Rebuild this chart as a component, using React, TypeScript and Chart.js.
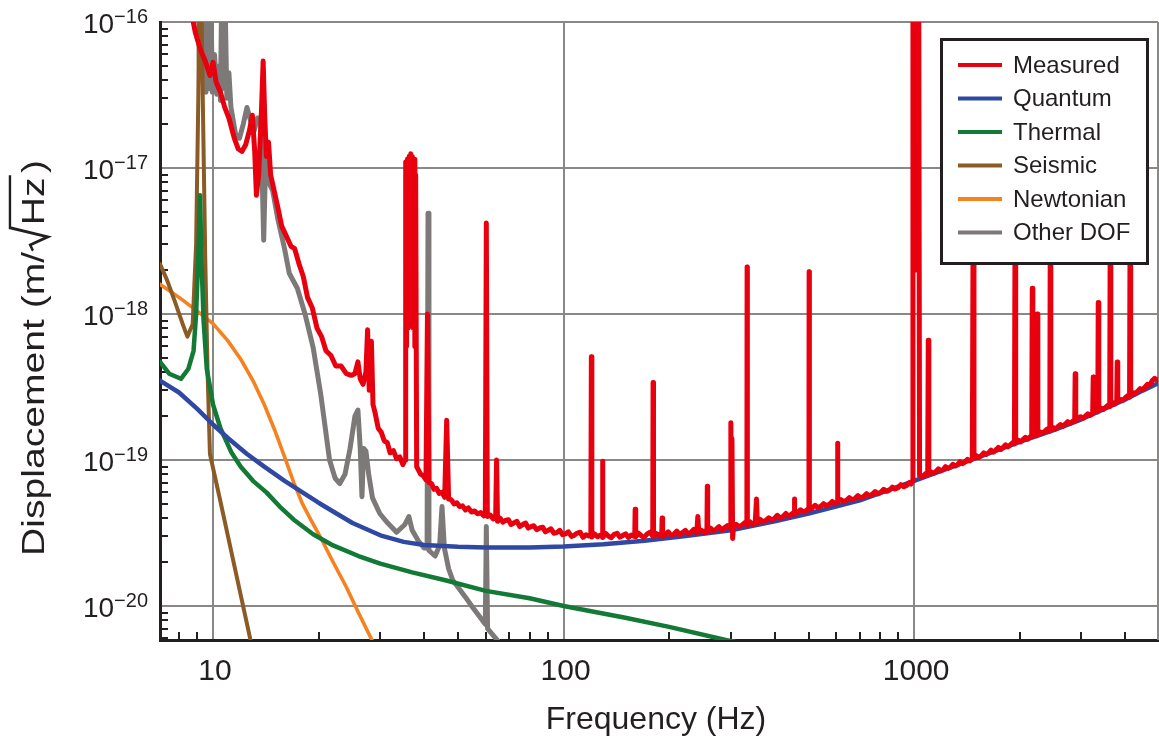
import { useEffect, useRef } from "react";
import { Chart, registerables } from "chart.js";

Chart.register(...registerables);

const FONT = "'Liberation Sans', Arial, Helvetica, sans-serif";
const INK = "#231f20";
const GRID = "#8a8787";

// Axis setup
const xRange = [7.06, 4960];
const yRange = [5.85e-21, 1e-16];
const xMajorTicks = [10, 100, 1000];
const xTickLabels = ["10", "100", "1000"];
const yMajorTicks = [1e-20, 1e-19, 1e-18, 1e-17, 1e-16];
const yTickExponents = ["−20", "−19", "−18", "−17", "−16"];

// Series: [frequency (Hz), displacement (m/√Hz)]
const measured: [number, number][] = [
  [8.6, 1.3e-16], [8.9, 8.5e-17], [9.2, 6.5e-17], [9.5, 5.4e-17], [9.8, 4.3e-17], [10.0, 5.3e-17],
  [10.2, 3.9e-17], [10.5, 3.3e-17], [10.8, 2.6e-17], [11.1, 2.2e-17], [11.5, 1.6e-17], [11.8, 1.35e-17],
  [12.1, 1.3e-17], [12.4, 1.45e-17], [12.7, 1.8e-17], [12.95, 2.3e-17], [13.15, 1.3e-17], [13.3, 6.5e-18],
  [13.5, 9e-18], [13.75, 2.5e-17], [13.9, 5.4e-17], [14.05, 2.2e-17], [14.2, 1.2e-17], [14.4, 1.5e-17],
  [14.6, 9e-18], [14.9, 7.2e-18], [15.3, 5.4e-18], [15.7, 4.0e-18], [16.2, 3.4e-18], [16.7, 2.9e-18],
  [17.1, 2.8e-18], [17.6, 2.2e-18], [18.1, 1.8e-18], [18.6, 1.3e-18], [19.2, 1.1e-18], [19.8, 8.0e-19],
  [20.4, 7.0e-19], [21.0, 5.6e-19], [21.7, 5.2e-19], [22.4, 4.4e-19], [23.2, 4.4e-19], [24.0, 3.9e-19],
  [24.8, 3.8e-19], [25.4, 3.9e-19], [25.9, 4.7e-19], [26.3, 3.6e-19], [26.8, 3.3e-19], [27.3, 4.0e-19],
  [27.6, 7.8e-19], [27.9, 3.0e-19], [28.3, 6.5e-19], [28.6, 2.4e-19], [29.0, 2.1e-19], [29.6, 1.65e-19],
  [30.2, 1.55e-19], [30.8, 1.35e-19], [31.4, 1.32e-19], [32.0, 1.12e-19], [32.7, 1.16e-19], [33.4, 1.02e-19],
  [34.1, 1.05e-19], [34.8, 9.3e-20], [35.3, 1.0e-19], [35.45, 1.1e-17], [35.65, 6e-19], [35.85, 1.15e-17],
  [36.05, 8e-19], [36.25, 1.2e-17], [36.45, 9e-19], [36.65, 1.25e-17], [36.85, 1.0e-18], [37.05, 1.2e-17],
  [37.25, 8e-19], [37.45, 1.15e-17], [37.65, 6e-19], [37.85, 9e-18], [38.1, 9e-20], [38.5, 8.6e-20],
  [39.1, 8.0e-20], [39.8, 7.8e-20], [40.5, 7.3e-20], [40.9, 1.0e-18], [41.3, 7.0e-20], [42.0, 6.9e-20],
  [42.7, 6.3e-20], [43.4, 6.4e-20], [44.2, 5.9e-20], [45.0, 6.0e-20], [45.8, 5.55e-20], [46.4, 1.87e-19],
  [47.0, 5.4e-20], [47.8, 5.35e-20], [48.7, 5.0e-20], [49.6, 5.1e-20], [50.5, 4.8e-20], [51.5, 4.85e-20],
  [52.5, 4.55e-20], [53.5, 4.7e-20], [54.6, 4.4e-20], [55.7, 4.48e-20], [56.8, 4.28e-20], [58.0, 4.36e-20],
  [59.2, 4.15e-20], [59.8, 4.25e-20], [60.2, 4.2e-18], [60.6, 4.1e-20], [61.8, 4.2e-20], [63.0, 3.95e-20],
  [64.0, 4.05e-20], [64.4, 1.0e-19], [64.8, 3.8e-20], [65.9, 4.0e-20], [67.1, 3.75e-20], [68.2, 3.85e-20],
  [69.6, 3.9e-20], [70.8, 3.62e-20], [72.3, 3.72e-20], [73.6, 3.8e-20], [75.0, 3.5e-20], [76.3, 3.6e-20],
  [77.9, 3.7e-20], [79.3, 3.42e-20], [80.9, 3.5e-20], [82.2, 3.55e-20], [83.9, 3.33e-20], [85.4, 3.42e-20],
  [87.2, 3.46e-20], [88.7, 3.22e-20], [90.4, 3.3e-20], [92.0, 3.38e-20], [93.9, 3.15e-20], [95.6, 3.18e-20],
  [97.5, 3.3e-20], [99.3, 3.08e-20], [101.3, 3.12e-20], [103.2, 3.22e-20], [105.3, 3.0e-20], [107.2, 3.05e-20],
  [109.4, 3.16e-20], [111.5, 3.2e-20], [113.6, 2.95e-20], [115.9, 3.08e-20], [118.0, 3.02e-20], [119.6, 3.1e-20],
  [120.0, 5.1e-19], [120.4, 2.97e-20], [122.5, 3.12e-20], [124.9, 2.98e-20], [127.3, 3.06e-20], [128.7, 3.0e-20],
  [129.1, 9.8e-20], [129.5, 2.95e-20], [131.9, 3.14e-20], [134.4, 3.0e-20], [136.8, 2.94e-20], [139.5, 3.1e-20],
  [142.1, 3.15e-20], [144.8, 2.96e-20], [147.4, 3.04e-20], [150.3, 3.12e-20], [153.0, 2.95e-20], [156.0, 3.06e-20],
  [158.8, 3.0e-20], [159.6, 3.1e-20], [160.0, 4.6e-20], [160.6, 2.98e-20], [163.5, 3.15e-20], [166.8, 3.02e-20],
  [169.9, 2.96e-20], [173.2, 3.12e-20], [176.5, 3.2e-20], [179.6, 3.02e-20], [180.0, 3.4e-19], [180.5, 3.0e-20],
  [183.6, 3.14e-20], [187.1, 3.02e-20], [190.6, 3.2e-20], [191.0, 4.0e-20], [191.6, 3.0e-20], [195.1, 3.08e-20],
  [198.8, 3.22e-20], [202.6, 3.05e-20], [206.3, 3.1e-20], [210.3, 3.26e-20], [214.2, 3.08e-20], [218.3, 3.18e-20],
  [222.4, 3.3e-20], [226.6, 3.12e-20], [231.0, 3.2e-20], [235.3, 3.35e-20], [239.8, 3.16e-20], [241.5, 4.1e-20],
  [243.0, 3.22e-20], [247.5, 3.3e-20], [252.1, 3.18e-20], [256.4, 3.36e-20], [257.0, 6.6e-20], [257.6, 3.2e-20],
  [262.3, 3.42e-20], [267.3, 3.28e-20], [272.4, 3.36e-20], [277.5, 3.5e-20], [282.8, 3.3e-20], [288.1, 3.44e-20],
  [293.6, 3.55e-20], [299.6, 3.4e-20], [300.0, 1.8e-19], [301.2, 6e-20], [302.2, 1.4e-19], [303.5, 2.9e-20],
  [305.0, 3.45e-20], [310.8, 3.62e-20], [316.7, 3.5e-20], [322.7, 3.58e-20], [328.8, 3.72e-20], [333.3, 3.6e-20],
  [333.8, 2.1e-18], [334.3, 3.55e-20], [340.0, 3.78e-20], [346.5, 3.62e-20], [352.1, 3.74e-20], [355.0, 5.4e-20],
  [357.0, 3.7e-20], [363.7, 3.92e-20], [370.6, 3.76e-20], [377.6, 3.86e-20], [384.8, 4.02e-20], [392.1, 3.88e-20],
  [399.5, 3.98e-20], [407.1, 4.18e-20], [414.8, 4.0e-20], [422.7, 4.1e-20], [430.7, 4.3e-20], [438.9, 4.12e-20],
  [447.2, 4.26e-20], [454.4, 4.4e-20], [455.2, 5.4e-20], [456.5, 4.25e-20], [465.1, 4.38e-20], [473.9, 4.56e-20],
  [482.9, 4.4e-20], [492.0, 4.5e-20], [501.0, 4.68e-20], [501.6, 1.95e-18], [502.4, 4.55e-20], [511.9, 4.7e-20],
  [521.6, 4.9e-20], [531.5, 4.72e-20], [541.6, 4.82e-20], [551.9, 5.02e-20], [562.3, 4.86e-20], [573.0, 4.98e-20],
  [583.9, 5.2e-20], [594.9, 5.02e-20], [603.0, 5.14e-20], [604.5, 1.3e-19], [606.0, 5.2e-20], [617.5, 5.36e-20],
  [629.2, 5.18e-20], [641.1, 5.3e-20], [653.3, 5.52e-20], [665.7, 5.34e-20], [678.3, 5.46e-20], [691.2, 5.7e-20],
  [704.3, 5.5e-20], [717.6, 5.62e-20], [731.3, 5.88e-20], [745.1, 5.68e-20], [759.3, 5.82e-20], [773.7, 6.08e-20],
  [788.4, 5.88e-20], [803.3, 6.02e-20], [818.6, 6.3e-20], [834.1, 6.1e-20], [849.9, 6.22e-20], [866.0, 6.52e-20],
  [882.5, 6.32e-20], [899.2, 6.46e-20], [916.3, 6.78e-20], [933.7, 6.56e-20], [951.4, 6.7e-20], [969.4, 7.0e-20],
  [980.0, 6.85e-20], [988, 7.2e-20], [992, 3e-16], [996, 2e-18], [1001, 3e-16], [1006, 2e-18],
  [1011, 3e-16], [1016, 2e-18], [1021, 3e-16], [1026, 2e-18], [1030, 3e-16], [1036, 7.8e-20], [1052, 7.6e-20],
  [1068, 7.9e-20], [1085, 8.15e-20], [1093, 7.9e-20], [1097, 6.6e-19], [1101, 8.0e-20], [1118, 8.3e-20],
  [1136, 8.1e-20], [1154, 8.35e-20], [1172, 8.7e-20], [1191, 8.45e-20], [1210, 8.6e-20], [1229, 9.0e-20],
  [1249, 8.75e-20], [1269, 8.95e-20], [1289, 9.35e-20], [1310, 9.1e-20], [1331, 9.3e-20], [1352, 9.75e-20],
  [1374, 9.45e-20], [1396, 9.7e-20], [1418, 1.01e-19], [1441, 9.85e-20], [1465, 1.02e-19], [1473, 5e-18],
  [1481, 1.03e-19], [1505, 1.07e-19], [1529, 1.04e-19], [1554, 1.07e-19], [1579, 1.12e-19], [1604, 1.09e-19],
  [1630, 1.12e-19], [1656, 1.17e-19], [1683, 1.13e-19], [1710, 1.17e-19], [1738, 1.22e-19], [1766, 1.18e-19],
  [1794, 1.22e-19], [1823, 1.27e-19], [1852, 1.23e-19], [1882, 1.27e-19], [1912, 1.32e-19], [1932, 1.29e-19],
  [1940, 5e-18], [1948, 1.31e-19], [1979, 1.37e-19], [2011, 1.33e-19], [2043, 1.38e-19], [2076, 1.43e-19],
  [2110, 1.39e-19], [2140, 1.44e-19], [2164, 1.47e-19], [2172, 1.5e-18], [2180, 1.45e-19], [2210, 1.5e-19],
  [2237, 1.47e-19], [2245, 1.0e-18], [2253, 1.5e-19], [2285, 1.56e-19], [2320, 1.52e-19], [2357, 1.57e-19],
  [2395, 1.63e-19], [2437, 1.58e-19], [2445, 5e-18], [2453, 1.6e-19], [2490, 1.67e-19], [2530, 1.63e-19],
  [2570, 1.69e-19], [2612, 1.75e-19], [2654, 1.7e-19], [2697, 1.76e-19], [2740, 1.83e-19], [2784, 1.78e-19],
  [2829, 1.84e-19], [2870, 1.88e-19], [2879, 3.9e-19], [2890, 1.86e-19], [2935, 1.93e-19], [2982, 1.98e-19],
  [3030, 1.93e-19], [3079, 2.0e-19], [3128, 2.07e-19], [3178, 2.02e-19], [3230, 2.09e-19], [3241, 3.7e-19],
  [3252, 2.12e-19], [3300, 2.18e-19], [3340, 2.14e-19], [3350, 1.2e-18], [3362, 2.2e-19], [3410, 2.27e-19],
  [3465, 2.22e-19], [3520, 2.3e-19], [3577, 2.38e-19], [3612, 2.32e-19], [3625, 5e-18], [3638, 2.38e-19],
  [3695, 2.47e-19], [3745, 2.42e-19], [3782, 2.5e-19], [3795, 4.7e-19], [3808, 2.52e-19], [3870, 2.6e-19],
  [3932, 2.56e-19], [3995, 2.66e-19], [4059, 2.75e-19], [4115, 2.7e-19], [4130, 5e-18], [4145, 2.78e-19],
  [4205, 2.9e-19], [4272, 2.84e-19], [4340, 2.96e-19], [4410, 3.08e-19], [4480, 3.02e-19], [4552, 3.16e-19],
  [4625, 3.3e-19], [4700, 3.24e-19], [4775, 3.5e-19], [4850, 3.62e-19], [4960, 3.5e-19],
];

const quantum: [number, number][] = [
  [7.06, 3.5e-19], [8, 2.9e-19], [9, 2.25e-19], [10, 1.75e-19], [11, 1.42e-19], [12.5, 1.1e-19],
  [14, 9e-20], [16, 7.2e-20], [18, 6.0e-20], [20, 5.1e-20], [22.5, 4.3e-20], [25, 3.7e-20],
  [30, 3.05e-20], [35, 2.75e-20], [40, 2.62e-20], [50, 2.55e-20], [60, 2.52e-20], [80, 2.52e-20],
  [100, 2.56e-20], [130, 2.65e-20], [170, 2.8e-20], [220, 3.0e-20], [300, 3.3e-20], [400, 3.8e-20],
  [500, 4.3e-20], [700, 5.3e-20], [1000, 7.2e-20], [1500, 1.03e-19], [2000, 1.33e-19], [2500, 1.6e-19],
  [3000, 1.9e-19], [3500, 2.25e-19], [4000, 2.6e-19], [4500, 3.0e-19], [4960, 3.35e-19],
];

const thermal: [number, number][] = [
  [7.06, 4.7e-19], [7.5, 3.9e-19], [8.1, 3.6e-19], [8.5, 4.2e-19], [8.8, 5.6e-19], [8.95, 1.0e-18],
  [9.08, 2.5e-18], [9.18, 6.5e-18], [9.28, 2.2e-18], [9.4, 9e-19], [9.6, 4.2e-19], [10, 2.4e-19],
  [10.5, 1.65e-19], [11.3, 1.12e-19], [12, 9e-20], [13, 7.2e-20], [14.2, 6e-20], [15.5, 4.8e-20],
  [17, 3.9e-20], [19.3, 3.1e-20], [22, 2.6e-20], [26, 2.2e-20], [30, 1.95e-20], [37, 1.7e-20],
  [46, 1.5e-20], [60, 1.27e-20], [80, 1.13e-20], [100, 1.0e-20], [150, 8.3e-21], [200, 7.2e-21],
  [290, 5.85e-21], [330, 5.5e-21],
];

const seismic: [number, number][] = [
  [7.06, 2.2e-18], [7.4, 1.7e-18], [7.8, 1.2e-18], [8.2, 8.5e-19], [8.45, 7.0e-19], [8.75, 8.5e-19],
  [8.95, 3e-18], [9.08, 3e-17], [9.15, 2e-16], [9.25, 2e-16], [9.35, 3e-17], [9.5, 2.5e-18],
  [9.65, 4e-19], [9.8, 1.1e-19], [10.5, 5.2e-20], [11.5, 1.9e-20], [12.8, 5.8e-21], [13.3, 3.8e-21],
];

const newtonian: [number, number][] = [
  [7.06, 1.6e-18], [8, 1.3e-18], [9, 1.05e-18], [10, 8.6e-19], [11, 6.6e-19], [12, 4.9e-19],
  [13, 3.5e-19], [14, 2.4e-19], [15, 1.6e-19], [16, 1.05e-19], [17, 7.0e-20], [18, 5.0e-20],
  [19, 3.9e-20], [20.5, 2.8e-20], [22, 2.0e-20], [24, 1.35e-20], [26, 9e-21], [28.4, 5.85e-21],
  [30, 4.6e-21],
];

const otherDof: [number, number][] = [
  [9.05, 3e-16], [9.15, 5e-17], [9.25, 2.5e-16], [9.35, 4e-17], [9.45, 2e-16], [9.55, 3.3e-17],
  [9.65, 1.5e-16], [9.75, 3.5e-17], [9.85, 2e-16], [9.95, 3.3e-17], [10.1, 6e-17], [10.25, 3.2e-17],
  [10.4, 5e-17], [10.5, 2.9e-17], [10.6, 2e-16], [10.7, 3.5e-17], [10.8, 2e-16], [10.95, 3e-17],
  [11.1, 4.5e-17], [11.25, 2.6e-17], [11.6, 1.7e-17], [11.9, 1.6e-17], [12.2, 2e-17], [12.5, 2.6e-17],
  [12.8, 2.1e-17], [13.1, 1.8e-17], [13.4, 2.2e-17], [13.7, 2.0e-17], [13.95, 3.2e-18], [14.15, 1.3e-17],
  [14.4, 8e-18], [14.8, 7e-18], [15.3, 4.5e-18], [16.0, 2.8e-18], [16.5, 1.9e-18], [17.4, 1.5e-18],
  [18.3, 1.0e-18], [19.3, 5.9e-19], [20.3, 2.8e-19], [21.5, 1.0e-19], [22.3, 7.5e-20], [23.0, 6.9e-20],
  [23.8, 8e-20], [24.6, 1.2e-19], [25.4, 2.0e-19], [25.9, 2.2e-19], [26.3, 1.2e-19], [26.6, 5.6e-20],
  [26.9, 1.2e-19], [27.3, 1.15e-19], [27.8, 8e-20], [28.5, 5.5e-20], [29.9, 4.3e-20], [31.5, 3.7e-20],
  [33.4, 3.2e-20], [35.2, 3.6e-20], [36.2, 4.1e-20], [37.0, 3.3e-20], [38.5, 2.8e-20], [40.0, 2.5e-20],
  [40.8, 2.5e-20], [41.05, 4.9e-18], [41.3, 2.4e-20], [43.0, 2.2e-20], [44.3, 2.6e-20], [45.0, 4.8e-20],
  [45.7, 2.5e-20], [47.0, 1.8e-20], [48.3, 1.5e-20], [50.5, 1.3e-20], [52.5, 1.15e-20], [55.0, 9.8e-21],
  [57.5, 8.5e-21], [59.8, 7.5e-21], [60.2, 3.5e-20], [60.7, 7e-21], [63, 6.3e-21], [66, 5.5e-21],
];

const seriesNames = ["Measured", "Quantum", "Thermal", "Seismic", "Newtonian", "Other DOF"];
const seriesData = [measured, quantum, thermal, seismic, newtonian, otherDof];
const seriesColors = ["#e8000f", "#2f48a3", "#137a36", "#8c5a24", "#f5821f", "#7d7979"];
const seriesWidths = [5, 4.5, 4.5, 4, 3.6, 5];

function minorValues(fromExp: number, toExp: number, lo: number, hi: number) {
  const out: number[] = [];
  for (let e = fromExp; e <= toExp; e++) {
    for (let m = 2; m <= 9; m++) {
      const v = m * Math.pow(10, e);
      if (v > lo && v < hi) out.push(v);
    }
  }
  return out;
}

const decorations = {
  id: "decorations",
  beforeDatasetsDraw(chart: any) {
    const { ctx, chartArea: a, scales } = chart;
    ctx.save();
    ctx.strokeStyle = INK;
    ctx.lineWidth = 2;
    ctx.beginPath();
    for (const v of minorValues(-21, -17, yRange[0], yRange[1])) {
      const y = Math.round(scales.y.getPixelForValue(v));
      ctx.moveTo(a.left, y);
      ctx.lineTo(a.left + 8, y);
    }
    for (const v of minorValues(0, 3, xRange[0], xRange[1])) {
      const x = Math.round(scales.x.getPixelForValue(v));
      ctx.moveTo(x, a.bottom);
      ctx.lineTo(x, a.bottom - 8);
    }
    ctx.stroke();
    // right frame edge
    ctx.strokeStyle = GRID;
    ctx.beginPath();
    ctx.moveTo(a.right, a.top);
    ctx.lineTo(a.right, a.bottom);
    ctx.stroke();
    ctx.restore();
  },
  afterDraw(chart: any) {
    const { ctx, chartArea: a, scales } = chart;
    ctx.save();
    ctx.fillStyle = INK;

    // y tick labels as powers of ten
    const labelRight = a.left - 12;
    yMajorTicks.forEach((v, i) => {
      const y = scales.y.getPixelForValue(v);
      ctx.font = `20px ${FONT}`;
      ctx.textAlign = "right";
      ctx.textBaseline = "alphabetic";
      const exp = yTickExponents[i];
      const ew = ctx.measureText(exp).width;
      ctx.fillText(exp, labelRight, y + 1);
      ctx.font = `28px ${FONT}`;
      ctx.fillText("10", labelRight - ew, y + 11);
    });

    // x tick labels
    ctx.font = `30px ${FONT}`;
    ctx.textAlign = "center";
    xMajorTicks.forEach((v, i) => {
      const x = scales.x.getPixelForValue(v);
      ctx.fillText(xTickLabels[i], x + 2, a.bottom + 40);
    });

    // x axis title
    ctx.font = `32px ${FONT}`;
    ctx.fillText("Frequency (Hz)", (a.left + a.right) / 2 - 3, a.bottom + 89);

    // y axis title with radical sign over Hz
    ctx.save();
    ctx.translate(44, 556);
    ctx.rotate(-Math.PI / 2);
    ctx.scale(1.15, 0.92);
    ctx.font = `34px ${FONT}`;
    ctx.textAlign = "left";
    const part1 = "Displacement (m/";
    const w1 = ctx.measureText(part1).width;
    ctx.fillText(part1, 0, 0);
    const rx = w1 + 1;
    const hzX = rx + 22;
    const hzW = ctx.measureText("Hz").width;
    ctx.strokeStyle = INK;
    ctx.lineWidth = 2.6;
    ctx.lineJoin = "miter";
    ctx.beginPath();
    ctx.moveTo(rx, -12);
    ctx.lineTo(rx + 5, -15);
    ctx.lineTo(rx + 12, 4);
    ctx.lineTo(rx + 20, -37);
    ctx.lineTo(hzX + hzW + 2, -37);
    ctx.stroke();
    ctx.fillText("Hz", hzX, 0);
    ctx.fillText(")", hzX + hzW + 4, 0);
    ctx.restore();

    // legend
    const lx = 940, ly = 38, lw = 209, lh = 227;
    ctx.fillStyle = "#ffffff";
    ctx.fillRect(lx, ly, lw, lh);
    ctx.strokeStyle = INK;
    ctx.lineWidth = 3;
    ctx.strokeRect(lx + 1.5, ly + 1.5, lw - 3, lh - 3);
    ctx.font = `24px ${FONT}`;
    ctx.textAlign = "left";
    ctx.textBaseline = "middle";
    seriesNames.forEach((name, i) => {
      const y = ly + 27 + i * 33.5;
      ctx.strokeStyle = seriesColors[i];
      ctx.lineWidth = 4;
      ctx.beginPath();
      ctx.moveTo(958, y);
      ctx.lineTo(1002, y);
      ctx.stroke();
      ctx.fillStyle = INK;
      ctx.fillText(name, 1013, y + 1);
    });
    ctx.restore();
  },
};

export default function App() {
  const canvasRef = useRef<HTMLCanvasElement | null>(null);

  useEffect(() => {
    const canvas = canvasRef.current;
    if (!canvas) return;
    const chart = new Chart(canvas, {
      type: "line",
      data: {
        datasets: seriesNames.map((name, i) => ({
          label: name,
          data: seriesData[i].map(([x, y]) => ({ x, y })),
          borderColor: seriesColors[i],
          backgroundColor: seriesColors[i],
          borderWidth: seriesWidths[i],
          pointRadius: 0,
          tension: 0,
          borderJoinStyle: "round" as const,
          borderCapStyle: "round" as const,
          fill: false,
          clip: 0,
        })),
      },
      options: {
        animation: false,
        responsive: false,
        devicePixelRatio: 1,
        events: [],
        layout: { padding: { left: 160, top: 22, right: 1, bottom: 100 } },
        plugins: { legend: { display: false }, tooltip: { enabled: false } },
        scales: {
          x: {
            type: "logarithmic",
            min: xRange[0],
            max: xRange[1],
            afterBuildTicks: (axis: any) => {
              axis.ticks = xMajorTicks.map((value) => ({ value }));
            },
            ticks: { display: false },
            grid: { color: GRID, lineWidth: 2, drawTicks: false },
            border: { display: true, color: INK, width: 3 },
            title: { display: false },
          },
          y: {
            type: "logarithmic",
            min: yRange[0],
            max: yRange[1],
            afterBuildTicks: (axis: any) => {
              axis.ticks = yMajorTicks.map((value) => ({ value }));
            },
            ticks: { display: false },
            grid: { color: GRID, lineWidth: 2, drawTicks: false },
            border: { display: true, color: INK, width: 3 },
            title: { display: false },
          },
        },
      },
      plugins: [decorations],
    });
    return () => chart.destroy();
  }, []);

  return (
    <div style={{ position: "fixed", left: 0, top: 0, width: 1159, height: 740, background: "#ffffff" }}>
      <canvas ref={canvasRef} width={1159} height={740} />
    </div>
  );
}
